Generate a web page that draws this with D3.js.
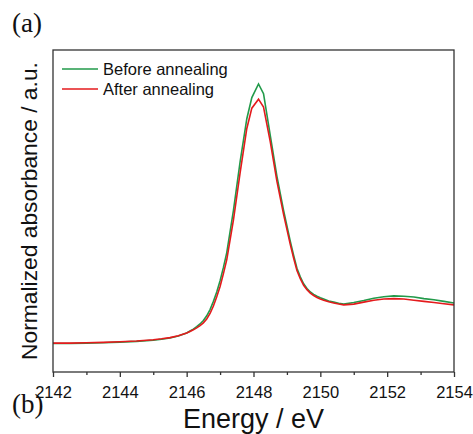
<!DOCTYPE html>
<html>
<head>
<meta charset="utf-8">
<script src="https://cdn.jsdelivr.net/npm/d3@7"></script>
<style>
body { margin: 0; background: #fff; }
svg { display: block; }
</style>
</head>
<body>
<svg id="chart" width="473" height="434"></svg>
<script>
// energies (eV), shared by both spectra
var energy = [2142, 2142.5, 2143, 2143.5, 2144, 2144.5, 2145, 2145.25, 2145.5, 2145.75,
	      2146.0, 2146.1, 2146.2, 2146.3, 2146.4, 2146.5, 2146.6, 2146.7, 2146.8, 2146.9,
	      2147.0, 2147.1, 2147.2, 2147.4, 2147.6, 2147.8, 2147.95, 2148.15, 2148.3, 2148.5,
	      2148.7, 2148.9, 2149.1, 2149.2, 2149.3, 2149.4, 2149.5, 2149.6, 2149.7, 2149.8,
	      2149.9, 2150.0, 2150.1, 2150.25, 2150.4, 2150.55, 2150.7, 2151.0, 2151.3, 2151.6,
	      2151.9, 2152.2, 2152.5, 2152.8, 2153.1, 2153.4, 2153.7, 2154.0];

var before = [-0.01, -0.01, 0.00, 0.01, 0.025, 0.045, 0.075, 0.10, 0.13, 0.18,
	      0.26, 0.31, 0.36, 0.42, 0.49, 0.58, 0.70, 0.86, 1.07, 1.31,
	      1.60, 1.94, 2.32, 3.40, 4.65, 5.75, 6.29, 6.64, 6.39, 5.33,
	      4.28, 3.40, 2.61, 2.25, 1.92, 1.70, 1.52, 1.40, 1.31, 1.25,
	      1.20, 1.16, 1.13, 1.08, 1.05, 1.02, 1.00, 1.04, 1.09, 1.15,
	      1.19, 1.21, 1.20, 1.18, 1.14, 1.11, 1.07, 1.03];

var after = [0.00, 0.00, 0.01, 0.02, 0.035, 0.055, 0.085, 0.11, 0.14, 0.19,
	     0.26, 0.30, 0.34, 0.39, 0.45, 0.52, 0.62, 0.76, 0.95, 1.19,
	     1.45, 1.78, 2.14, 3.16, 4.37, 5.50, 6.02, 6.25, 6.05, 5.17,
	     4.15, 3.30, 2.53, 2.18, 1.86, 1.65, 1.48, 1.37, 1.28, 1.22,
	     1.17, 1.13, 1.10, 1.06, 1.03, 1.00, 0.98, 1.00, 1.05, 1.10,
	     1.13, 1.14, 1.13, 1.10, 1.07, 1.04, 1.01, 0.98];

var series_names = ["Before annealing", "After annealing"];
var series_cols = ["#229a4a", "#e41a1c"];
var x_ticks = [2142, 2144, 2146, 2148, 2150, 2152, 2154];

var margin = {left: 53, top: 50, right: 19, bottom: 62};
var W = 473, H = 434;
var svg = d3.select("#chart");

var x = d3.scaleLinear().domain([2142, 2154]).range([margin.left, W - margin.right]);
var y = d3.scaleLinear().domain([-0.74, 7.51]).range([H - margin.bottom, margin.top]);

var draw_line = d3.line()
    .x(function(d) { return x(d.e); })
    .y(function(d) { return y(d.v); });

var all = [before, after].map(function(vals, i) {
    return {name: series_names[i], col: series_cols[i],
	    pts: vals.map(function(v, j) { return {e: energy[j], v: v}; })};
});

// curves (green first, red on top)
svg.selectAll("path.spec")
    .data(all)
    .enter().append("path")
    .attr("class", "spec")
    .attr("d", function(d) { return draw_line(d.pts); })
    .style("fill", "none")
    .style("stroke", function(d) { return d.col; })
    .style("stroke-width", 1.6)
    .style("stroke-linejoin", "miter");

// frame
svg.append("rect")
    .attr("x", x(2142)).attr("y", y.range()[1])
    .attr("width", x(2154) - x(2142))
    .attr("height", y.range()[0] - y.range()[1])
    .style("fill", "none")
    .style("stroke", "#333")
    .style("stroke-width", 1.3);

// bottom axis, minor + major ticks
var xaxis_minor = d3.axisBottom(x)
    .tickValues(d3.range(2143, 2154, 2))
    .tickSize(3).tickFormat("");
var xaxis = d3.axisBottom(x)
    .tickValues(x_ticks)
    .tickSize(5).tickPadding(9)
    .tickFormat(d3.format("d"));

var gmin = svg.append("g")
    .attr("transform", "translate(0," + y.range()[0] + ")")
    .call(xaxis_minor);
var gx = svg.append("g")
    .attr("transform", "translate(0," + y.range()[0] + ")")
    .call(xaxis);
[gmin, gx].forEach(function(g) {
    g.select(".domain").remove();
    g.selectAll(".tick line").style("stroke", "#333").style("stroke-width", 1.3);
});
gx.selectAll(".tick text")
    .style("font-family", "'Liberation Sans', Arial, sans-serif")
    .style("font-size", "16.5px")
    .style("fill", "#111");

// axis titles
svg.append("text")
    .attr("x", (x(2142) + x(2154)) / 2)
    .attr("y", 428)
    .attr("text-anchor", "middle")
    .style("font-family", "'Liberation Sans', Arial, sans-serif")
    .style("font-size", "27px")
    .style("fill", "#111")
    .text("Energy / eV");

svg.append("text")
    .attr("transform", "translate(37," + (y.range()[0] + y.range()[1]) / 2 + ") rotate(-90)")
    .attr("text-anchor", "middle")
    .style("font-family", "'Liberation Sans', Arial, sans-serif")
    .style("font-size", "22.8px")
    .style("fill", "#111")
    .text("Normalized absorbance / a.u.");

// panel labels
svg.selectAll("text.panel")
    .data([{t: "(a)", y: 32}, {t: "(b)", y: 413}])
    .enter().append("text")
    .attr("class", "panel")
    .attr("x", 12)
    .attr("y", function(d) { return d.y; })
    .style("font-family", "'Liberation Serif', 'Times New Roman', serif")
    .style("font-size", "27px")
    .style("fill", "#111")
    .text(function(d) { return d.t; });

// legend
var leg = svg.selectAll("g.leg")
    .data(all)
    .enter().append("g")
    .attr("class", "leg")
    .attr("transform", function(d, i) { return "translate(62," + (69 + i * 20) + ")"; });
leg.append("line")
    .attr("x1", 0).attr("x2", 36)
    .style("stroke", function(d) { return d.col; })
    .style("stroke-width", 1.6);
leg.append("text")
    .attr("x", 41).attr("y", 6)
    .style("font-family", "'Liberation Sans', Arial, sans-serif")
    .style("font-size", "16.5px")
    .style("fill", "#111")
    .text(function(d) { return d.name; });
</script>
</body>
</html>
